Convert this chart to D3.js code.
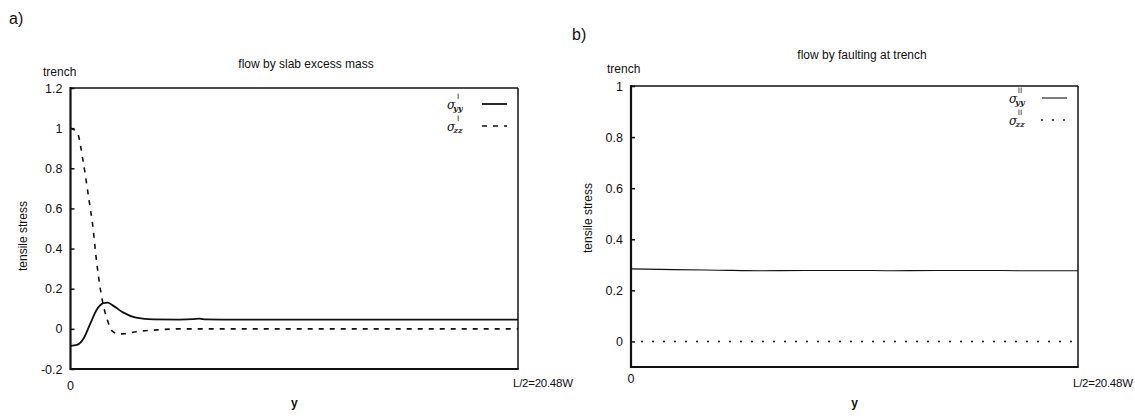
<!DOCTYPE html>
<html>
<head>
<meta charset="utf-8">
<script src="https://cdn.jsdelivr.net/npm/d3@7"></script>
<style>
  body { margin: 0; background: #fff; }
  svg { display: block; font-family: "Liberation Sans", Arial, sans-serif; }
  text { fill: #111; }
</style>
</head>
<body>
<svg id="chart" width="1135" height="418"></svg>
<script>
// panel a: flow by slab excess mass
const L2 = 20.48;
const slabYY_x = [0, 0.3, 0.6, 0.9, 1.2, 1.5, 1.7, 2.0, 2.4, 3.0, 3.8, 5.0, 5.6, 5.9, 6.2, 8, 12, 16, 20.48];
const slabYY_v = [-0.085, -0.08, -0.048, 0.025, 0.095, 0.128, 0.131, 0.112, 0.082, 0.056, 0.047, 0.046, 0.048, 0.051, 0.047, 0.046, 0.046, 0.046, 0.046];
const slabZZ_x = [0, 0.3, 0.6, 0.85, 1.0, 1.2, 1.45, 1.7, 1.9, 2.2, 2.5, 3.0, 4.0, 5.0, 10, 20.48];
const slabZZ_v = [1.0, 0.98, 0.82, 0.64, 0.53, 0.33, 0.145, 0.04, -0.01, -0.025, -0.024, -0.014, -0.005, 0, 0, 0];
const aTicks = [-0.2, 0, 0.2, 0.4, 0.6, 0.8, 1, 1.2];

// panel b: flow by faulting at trench
const faultX = [0, 2, 4, 6, 8, 10, 12, 14, 16, 18, 20.48];
const faultYY_v = [0.284, 0.281, 0.279, 0.277, 0.278, 0.278, 0.277, 0.278, 0.278, 0.277, 0.277];
const faultZZ_v = [0, 0, 0, 0, 0, 0, 0, 0, 0, 0, 0];
const bTicks = [0, 0.2, 0.4, 0.6, 0.8, 1];

const svg = d3.select("#chart");

function panel(cfg) {
    const x = d3.scaleLinear().domain([0, L2]).range([cfg.left, cfg.right]);
    const y = d3.scaleLinear().domain(cfg.yDomain).range([cfg.bottom, cfg.top]);
    const g = svg.append("g");

    // y axis ticks (inside) and labels
    const yAxis = d3.axisLeft(y).tickValues(cfg.ticks).tickSizeInner(-4).tickSizeOuter(0)
        .tickPadding(8).tickFormat(d => String(d));
    const ga = g.append("g").attr("transform", "translate(" + cfg.left + ",0)").call(yAxis);
    ga.select(".domain").remove();
    ga.selectAll("line").attr("stroke", "#111").attr("stroke-width", 1.5);
    ga.selectAll("text").attr("font-size", 12.5).attr("fill", "#111").attr("font-family", null);

    // curves
    const line = d3.line().x(d => x(d[0])).y(d => y(d[1])).curve(d3.curveMonotoneX);
    cfg.series.forEach(s => {
        g.append("path")
            .datum(d3.zip(s.x, s.v))
            .attr("fill", "none")
            .attr("stroke", "#111")
            .attr("stroke-width", s.width)
            .attr("stroke-dasharray", s.dash)
            .attr("stroke-linecap", s.cap || "butt")
            .attr("d", line);
    });

    // frame
    g.append("line").attr("x1", cfg.left).attr("x2", cfg.right).attr("y1", cfg.top).attr("y2", cfg.top)
        .attr("stroke", "#111").attr("stroke-width", 1.5);
    g.append("line").attr("x1", cfg.right).attr("x2", cfg.right).attr("y1", cfg.top).attr("y2", cfg.bottom)
        .attr("stroke", "#111").attr("stroke-width", 1.5);
    g.append("line").attr("x1", cfg.left).attr("x2", cfg.left).attr("y1", cfg.top - 1).attr("y2", cfg.bottom + 1)
        .attr("stroke", "#111").attr("stroke-width", 2.2);
    g.append("line").attr("x1", cfg.left).attr("x2", cfg.right + 0.7).attr("y1", cfg.bottom).attr("y2", cfg.bottom)
        .attr("stroke", "#111").attr("stroke-width", 2.2);

    // x labels
    g.append("text").attr("x", x(0)).attr("y", cfg.zeroY).attr("text-anchor", "middle")
        .attr("font-size", 12.5).text("0");
    g.append("text").attr("x", x(L2) - 5).attr("y", 387).attr("font-size", 11.5)
        .attr("textLength", 60).text("L/2=20.48W");
    g.append("text").attr("x", (cfg.left + cfg.right) / 2).attr("y", 407).attr("text-anchor", "middle")
        .attr("font-size", 12).attr("font-weight", "bold").text("y");

    // y label, trench, title, panel letter
    g.append("text").attr("transform", "translate(" + cfg.ylabX + "," + cfg.ylabY + ") rotate(-90)")
        .attr("text-anchor", "middle").attr("font-size", 12).text("tensile stress");
    g.append("text").attr("x", cfg.trenchX).attr("y", cfg.trenchY).attr("font-size", 12).text("trench");
    g.append("text").attr("x", cfg.titleX).attr("y", cfg.titleY).attr("text-anchor", "middle")
        .attr("font-size", 12).text(cfg.title);
    g.append("text").attr("x", cfg.letterX).attr("y", cfg.letterY).attr("font-size", 16).text(cfg.letter);

    // legend: sigma with stacked superscript and subscript
    cfg.series.forEach((s, i) => {
        const ly = cfg.legY + i * cfg.legStep;
        g.append("text").attr("x", cfg.legX).attr("y", ly + 4).attr("font-size", 12)
            .attr("font-family", "DejaVu Serif, serif").attr("font-style", "italic").text("σ");
        g.append("text").attr("x", cfg.legX + 11).attr("y", ly - 6).attr("font-size", 7.5)
            .attr("font-family", "DejaVu Sans, sans-serif").attr("text-anchor", "middle").text(cfg.sup);
        g.append("text").attr("x", cfg.legX + 11).attr("y", ly + 6).attr("font-size", 8)
            .attr("font-family", "DejaVu Serif, serif").attr("font-style", "italic").attr("font-weight", "bold")
            .attr("text-anchor", "middle").text(s.sub);
        g.append("line").attr("x1", cfg.legLine[0]).attr("x2", cfg.legLine[1])
            .attr("y1", ly - 1).attr("y2", ly - 1)
            .attr("stroke", "#111").attr("stroke-width", s.width).attr("stroke-dasharray", s.dash)
            .attr("stroke-linecap", s.cap || "butt");
    });
}

panel({
    left: 70.5, right: 518, top: 88, bottom: 369, yDomain: [-0.2, 1.2], ticks: aTicks,
    series: [
        { x: slabYY_x, v: slabYY_v, width: 1.8, dash: null, sub: "yy" },
        { x: slabZZ_x, v: slabZZ_v, width: 1.6, dash: "5,6", sub: "zz" }
    ],
    zeroY: 390, ylabX: 27, ylabY: 236, trenchX: 43, trenchY: 76,
    title: "flow by slab excess mass", titleX: 306, titleY: 68,
    letter: "a)", letterX: 9, letterY: 24,
    legX: 447, legY: 105, legStep: 22, sup: "I", legLine: [482, 507]
});

panel({
    left: 631, right: 1078, top: 86, bottom: 367, yDomain: [-0.1, 1], ticks: bTicks,
    series: [
        { x: faultX, v: faultYY_v, width: 1.1, dash: null, sub: "yy" },
        { x: faultX, v: faultZZ_v, width: 2, dash: "0,11", cap: "round", sub: "zz" }
    ],
    zeroY: 383, ylabX: 592, ylabY: 218, trenchX: 607, trenchY: 73,
    title: "flow by faulting at trench", titleX: 862, titleY: 59,
    letter: "b)", letterX: 572, letterY: 40,
    legX: 1009, legY: 99, legStep: 22, sup: "II", legLine: [1042, 1067]
});
</script>
</body>
</html>
